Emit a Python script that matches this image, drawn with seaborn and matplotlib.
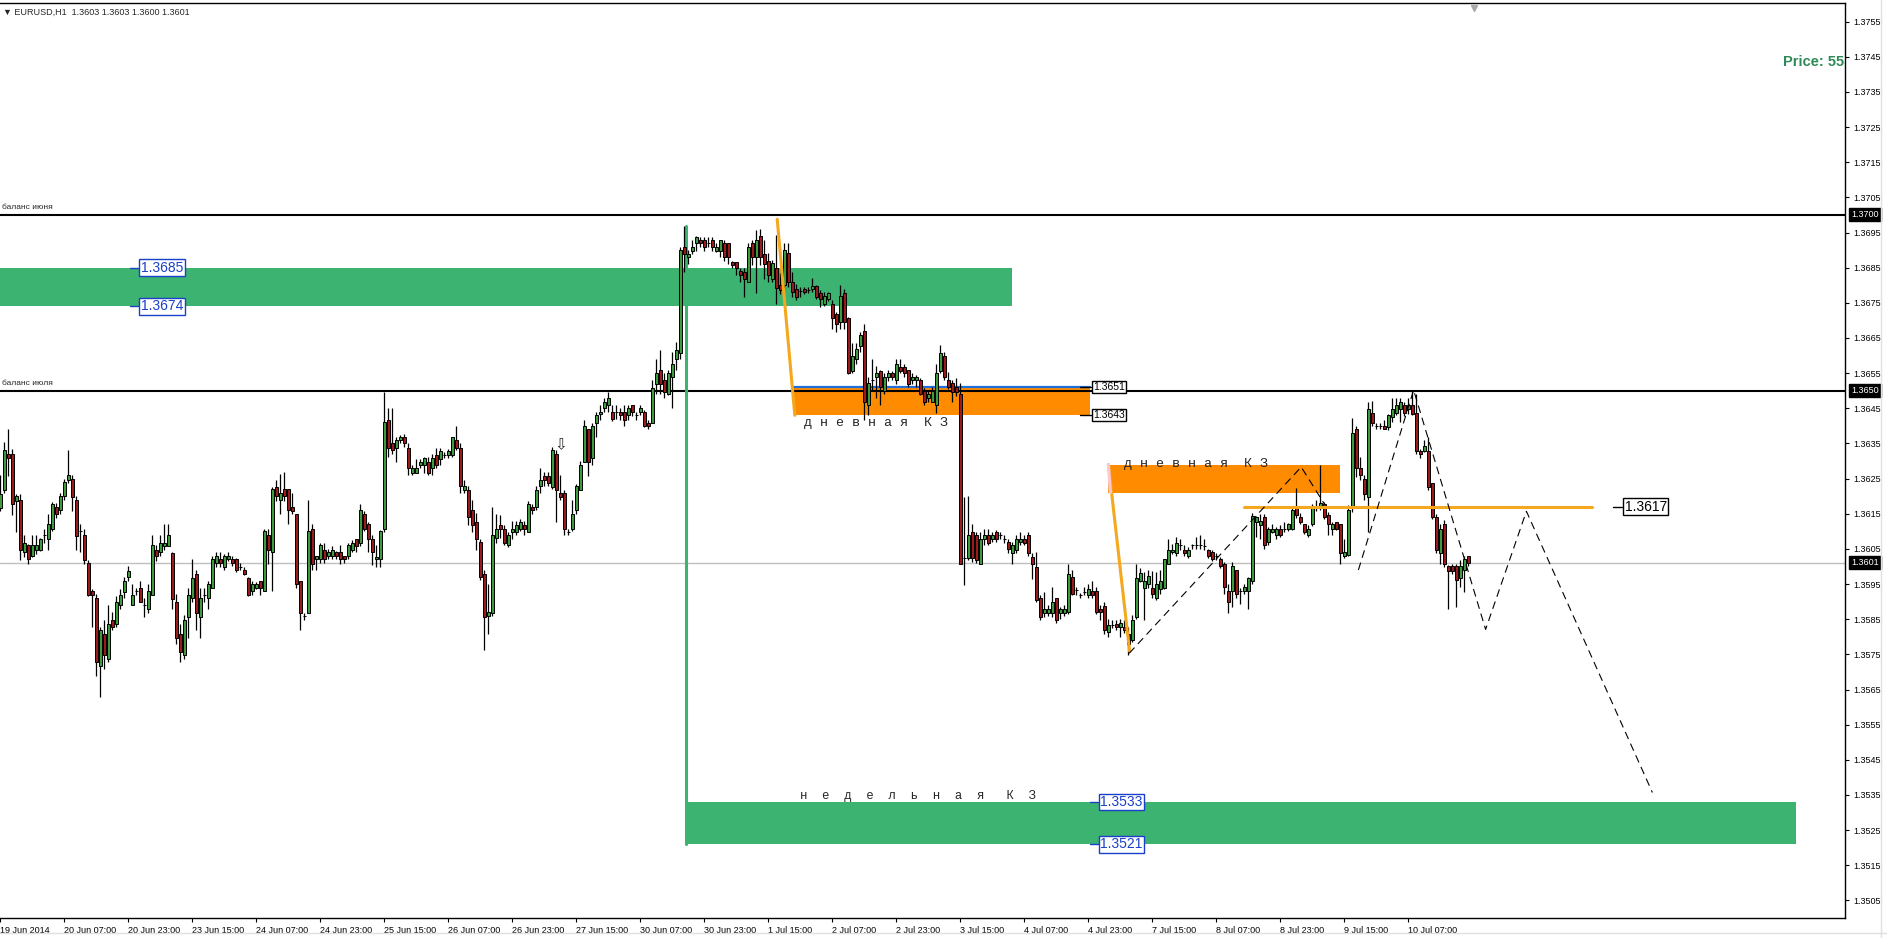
import numpy as np
import matplotlib.pyplot as plt
import matplotlib.lines as mlines
import seaborn as sns

# EURUSD H1, values in pips above 1.3500
opens = [116.7, 121.9, 132, 132, 118.7, 118.8, 104, 106, 102.9, 104.8, 104.8, 108.9, 107.9, 110.8, 117, 116,
         120, 124.7, 124.8, 118.8, 110, 108.9, 100.9, 93, 90.9, 71.7, 80.9, 73.8, 84.9, 83.7, 89, 92.8,
         97, 89, 93, 94, 89, 88, 92, 104.8, 104, 105.8, 105.8, 103.9, 90, 80.9, 74.7, 85.6,
         90.9, 98, 85.6, 92, 90.9, 94, 100.9, 102, 99.9, 102, 102, 102, 99.9, 98.9, 96.8, 92.9,
         94, 96, 92.9, 108.9, 104, 122.6, 118.8, 122, 122, 117, 114.8, 96, 85.9, 86.9, 110.8, 102,
         102, 104.8, 102.9, 102.9, 104, 104, 102.9, 102.9, 104.8, 107.9, 106.8, 114.8, 112, 107.9, 102, 102,
         110.8, 141.8, 135, 133.8, 135.9, 136.9, 133.8, 126.7, 126.7, 128.8, 128.8, 129.8, 127.9, 131.8, 130.7, 131.8,
         131.8, 131.8, 135.9, 133.8, 121.9, 121.9, 116, 112.7, 107, 98, 86, 86.8, 108, 111.9, 110.8, 106,
         109.8, 109.8, 110.8, 111.9, 109.8, 117, 117, 122.8, 125.7, 125.7, 122.7, 131.9, 120.8, 120.8, 109.8, 110.8,
         116, 121.9, 129.8, 139, 130.9, 140.9, 143.5, 145, 145.9, 144, 144, 144, 144, 143, 145.9, 143,
         144, 144, 140.9, 140.9, 151.9, 155.9, 153, 149, 154, 158.9, 160.8, 190.8, 187.9, 189.8, 191.9, 192.9,
         192.9, 191.9, 192.9, 189.8, 189.8, 191.9, 191.9, 186.7, 186.7, 184.1, 183.8, 180.8, 191.9, 187.9, 194, 188.9,
         187, 181.9, 184.8, 180.2, 180, 189.1, 181, 178.8, 178.3, 178.8, 178.6, 178.8, 179.8, 177.9, 174.8, 176,
         174.8, 171.7, 169.6, 177.9, 170.8, 155.7, 158.9, 162.7, 167, 145.9, 153, 153.8, 155.7, 150, 153.8, 154.9,
         153, 156.8, 156.8, 155.9, 153, 153, 153, 150, 147.8, 146.8, 145.9, 155.7, 159.8, 153, 152.1, 151.1,
         149.2, 102.3, 102.3, 109.8, 108.9, 100.8, 107.9, 108.9, 107.9, 109.8, 108.9, 107.9, 107, 103.7, 104.8, 107,
         107.9, 108.9, 102.7, 99.9, 90.9, 86.8, 86.8, 86.8, 90.9, 86.8, 86.8, 87.1, 97, 93.2, 91.8, 92.8,
         91.8, 93, 93, 88, 88.9, 81.3, 83.3, 83.7, 82.8, 82.8, 80.9, 79, 85.6, 96, 94, 95.1,
         94, 90.9, 93.7, 94, 100.8, 104.1, 103.9, 106, 104.8, 102.9, 106, 106, 106, 105.8, 104.8, 104.1,
         102.9, 102, 100.8, 93, 93, 98.9, 93, 93, 93, 95.9, 112.7, 111.7, 114.1, 107, 109.8, 108.9,
         110.8, 110.8, 110.8, 110.8, 116.9, 114.1, 112, 108.9, 112, 116.8, 116.8, 117.9, 114.6, 110.8, 112.7, 112,
         102.9, 103.2, 116.5, 139, 127.9, 125, 119.8, 143.7, 139.9, 139.9, 139.9, 139.7, 142.6, 143.7, 144.9, 145.9,
         144.9, 145.9, 143.7, 132.9, 132.9, 132.9, 123.8, 114.1, 103.7, 112, 100.1, 100.1, 100.1, 96.8, 98.9, 103]
highs = [126, 135.4, 139, 133.5, 120.7, 120.7, 108.9, 106.5, 108.9, 108.9, 108, 110.8, 114.8, 118.4, 118, 121,
         125, 133, 126, 120, 112, 110.8, 101.8, 93.7, 92.3, 82.8, 84.9, 89, 87, 91.5, 93.5, 97,
         100.2, 94.9, 94, 96, 90.9, 94.9, 108.9, 106, 108.9, 112, 112, 104, 92.3, 83.7, 86.1, 94,
         102, 98.9, 94, 94, 96, 102.9, 104, 104, 103.5, 104, 102.9, 102.5, 100.9, 99.9, 97, 96,
         95.5, 96, 110.8, 110.8, 122.6, 124.7, 126.4, 126.8, 122, 120.9, 114.8, 96, 86.9, 118.8, 112, 102.9,
         106.8, 106.8, 105, 105.8, 104.5, 106, 102.9, 106.8, 107.5, 107.9, 117.9, 115.8, 112.7, 108.9, 106, 110.3,
         149.7, 145, 145, 136.9, 137.4, 137.8, 135, 128.8, 130.7, 130.7, 131.2, 131.2, 132.1, 133.8, 133.8, 132.5,
         133.5, 136.9, 139.9, 135, 124.7, 122.8, 118.9, 115.1, 107.9, 98.9, 95.1, 116.9, 114.9, 114.6, 111.7, 109.8,
         112.9, 112.9, 113.5, 112.9, 118.5, 117.9, 122.8, 127.9, 126.9, 126.9, 134, 133.1, 126, 121.7, 110.8, 118.9,
         123.6, 129.9, 141.8, 139, 140.9, 144, 145.9, 147.8, 149.7, 145.9, 145.9, 145, 145.9, 145.9, 145.9, 144,
         145.9, 144.5, 141.8, 153, 158.9, 161.7, 154.9, 155.9, 161, 163.9, 191, 196.8, 190, 192.9, 194, 193.8,
         193.8, 193.8, 193.8, 191.9, 192.9, 192.9, 191.9, 187, 186.7, 184.8, 184.8, 191.9, 192.9, 195.7, 195.9, 192.9,
         189.1, 187.2, 194.3, 183.4, 191.9, 191.9, 183.8, 180.5, 179.6, 179.6, 179.6, 182, 180, 178.6, 178.1, 178.1,
         175.8, 172.4, 180, 178.8, 171, 163.6, 163.6, 166.6, 169, 154, 158.9, 157, 155.9, 154.9, 155.9, 155.5,
         158.9, 158.9, 157.7, 155.9, 154.9, 154.5, 153.5, 150.7, 150.1, 151.1, 157.7, 163, 161, 155.4, 153, 153.5,
         152.1, 119.8, 120, 112, 109.8, 109.8, 110.8, 110.8, 109.8, 110.3, 109.8, 108.9, 107.9, 107, 108.9, 109.8,
         108.9, 109.8, 103.7, 104.2, 91.8, 92.8, 89, 94.2, 90.9, 88.5, 89, 100.8, 98.9, 94.2, 92.5, 94.2,
         95.1, 96, 94.2, 89, 89.9, 85.2, 84.7, 84.7, 85.2, 84.7, 82.8, 86.1, 100.8, 99.5, 98.4, 98.9,
         98.7, 98.4, 99.1, 102.2, 107.9, 106.5, 108.4, 107.9, 106, 105.5, 106.5, 108.4, 108.9, 107.9, 105.1, 104.6,
         103.9, 102.7, 101.3, 95.1, 101.3, 99.1, 94, 95.1, 97, 115.2, 114.3, 115, 115, 111.3, 112, 111.3,
         111.7, 112.7, 112.5, 117, 122.2, 115.1, 112.2, 111.7, 117.9, 118.9, 128.8, 118.4, 115.5, 112.7, 112.7, 112.2,
         107.7, 117.4, 142.1, 139.9, 131.2, 126, 146.8, 147.1, 140.9, 140.9, 141.8, 143.5, 147.8, 147.8, 147.8, 146.8,
         147.8, 150, 149.2, 133.5, 136.1, 136.9, 123.8, 115, 112.2, 113.2, 100.3, 100.8, 100.8, 101.8, 102.9, 103]
lows = [115.8, 121, 125.8, 114.6, 109.8, 101.8, 102.7, 100.8, 102.7, 103.5, 104.5, 106.7, 104.8, 110, 113.8, 115,
        119, 123.8, 115.8, 104.6, 104, 100.8, 91.5, 82.8, 68.8, 62.9, 70.9, 72.8, 81.8, 82.8, 87.9, 91,
        96, 89, 91.8, 89.9, 85.6, 86.9, 92, 101.5, 102.9, 104.8, 105.8, 88, 78, 72.8, 73.8, 79.7,
        89.9, 81.8, 79.7, 89.9, 88, 93.8, 99.9, 99.9, 99, 101.5, 100, 98.5, 98.9, 97.5, 91.5, 92,
        93.5, 92, 92.9, 100.8, 92.9, 118.7, 114.8, 118.7, 112, 114.8, 94, 81.8, 84.9, 86.9, 98.9, 98.9,
        101, 101, 102, 102, 102, 100.8, 100.9, 102, 104, 104, 105.8, 110, 104, 100.4, 99.9, 99.9,
        109.8, 131.2, 132, 129.8, 135, 134, 126, 126, 126.7, 128, 126.7, 126, 126, 128, 128.8, 131,
        131, 131.2, 133, 120.8, 120.8, 111.7, 109.8, 104.6, 96.1, 76.2, 80.9, 86, 106.8, 108, 106, 105.6,
        107.9, 108.9, 110, 108.9, 109.8, 115, 116, 120.8, 122.8, 122.8, 122, 112.7, 118.9, 108.9, 108.9, 110,
        115, 121.9, 129.8, 125.8, 128.8, 136.9, 141.8, 144, 144, 141.5, 142, 141.8, 139.9, 141.8, 142.9, 141.8,
        143, 139.7, 139, 140.9, 149, 149, 147.8, 148.8, 145, 155.9, 159, 183.8, 186, 188.9, 189.8, 190.8,
        189.8, 190.8, 189.8, 189.5, 187.9, 186.9, 186, 185, 182.9, 181, 176.7, 180.8, 185.7, 177.9, 185.7, 181.9,
        181, 181, 174.8, 177.5, 179.1, 179.6, 176.7, 175.8, 176.7, 177.5, 177.7, 178, 176, 173.9, 174, 175.5,
        167.7, 166.8, 167.7, 167.7, 154.7, 154.9, 157.5, 161, 141.6, 143, 150, 147.8, 145.9, 149, 152.9, 153,
        152, 154.9, 153.8, 151, 151.9, 151, 148.7, 145.9, 146.8, 146.8, 143.8, 155, 153, 150.6, 146.8, 148.5,
        100.8, 94.6, 101.8, 101.4, 101, 100.8, 106, 106, 107, 107, 107.9, 106.7, 103.7, 100.8, 103.7, 106,
        106, 103, 96.5, 89.9, 84.7, 85.6, 86, 85.6, 84, 85.2, 86, 86.5, 91.8, 91.8, 90.9, 92,
        91, 91, 86.5, 84.7, 80.9, 79.9, 82.5, 82, 79.9, 81, 74.7, 78.5, 85.2, 95.5, 84.7, 94,
        90.9, 90.4, 92.3, 93.7, 100.6, 103.5, 103, 104.8, 102.9, 102.3, 105.1, 105.1, 105.1, 104.8, 102.3, 101.5,
        101.8, 99.5, 92.3, 86.8, 88.5, 91, 89.2, 92.3, 88, 94.9, 108.4, 107.9, 105, 106, 109.5, 107.9,
        108.4, 109.8, 110, 110.3, 113.9, 112.2, 109.3, 108.4, 111.5, 115.9, 116, 113.5, 108.9, 108.9, 110.3, 100.8,
        102.3, 102.9, 115.5, 125.5, 124.7, 118.8, 109.8, 139.9, 139, 139, 139, 138.8, 141.1, 143, 141.1, 142.8,
        143.5, 143, 131.9, 131, 132.5, 121.9, 113.6, 103.7, 100.8, 99.9, 88, 97.8, 88.5, 94.2, 92.8, 100]
closes = [120.7, 133.1, 131, 117.9, 120, 104.6, 106.8, 102, 106, 106, 107.9, 109, 112, 117.9, 114.8, 120,
          124, 126, 119.8, 108.7, 110, 101.8, 92, 92, 72.8, 81.8, 74.7, 83.7, 82.8, 89.9, 92, 96,
          98.7, 92, 93, 89.9, 89, 93, 106, 102.9, 106.8, 106.8, 108.9, 90.7, 79.7, 75.7, 84.9, 92,
          96.8, 86.9, 90.9, 92, 94.9, 102, 102.9, 100.9, 102.9, 102.9, 100.9, 98.9, 99.9, 98, 92, 94.9,
          94.9, 94, 110, 104.8, 122, 120, 120.9, 120, 116, 115.8, 94.9, 86.9, 85.9, 110, 100.8, 102.9,
          106, 102, 104, 104.8, 102.9, 102, 102, 106, 106.8, 105.8, 116, 110.8, 107.9, 104.2, 102.8, 110,
          141.2, 133.8, 133, 135.9, 136.9, 135, 127.9, 127.9, 127.9, 129.8, 130.9, 126.7, 130.9, 128.8, 132.9, 131.8,
          132.9, 136.9, 133.8, 122.8, 122.8, 114.1, 111.7, 107.9, 97, 85.7, 87.1, 108.9, 110.8, 110.8, 106.8, 108.9,
          110.8, 111.9, 112.7, 110.8, 117.9, 116, 121.9, 124.7, 124.7, 123.8, 133.1, 121.9, 119.8, 110.8, 109.8, 114.9,
          122.8, 128.8, 139.9, 129.8, 139.9, 143, 144, 146.8, 147.8, 142, 144, 143, 141.8, 145, 144, 143,
          145, 139.9, 139.9, 150.9, 154.9, 151.9, 149.7, 154.9, 157.7, 161.7, 190, 188.9, 188.9, 190.8, 193.8, 191.9,
          190.8, 191.9, 190.8, 190.8, 192.9, 187.9, 188.1, 185.7, 184.8, 182.9, 181.9, 190.8, 187.9, 192.9, 187.9, 186,
          182.9, 186.2, 179.1, 178.6, 190, 181, 178.1, 176.7, 178.3, 178.1, 178.6, 179.8, 176.7, 176, 176.9, 177.9,
          170.8, 168.9, 176.9, 169.6, 154.9, 159.8, 162, 165.8, 146.8, 152.1, 153, 154.9, 151.1, 154, 154.9, 153.8,
          157.7, 155.7, 154.9, 151.9, 153.9, 153.9, 149, 146.8, 149, 150, 154.9, 160.8, 153.8, 151.1, 149.7, 149.7,
          100.8, 102.3, 108.9, 102.3, 101.8, 107.9, 108.9, 106.7, 108.9, 107.9, 108.9, 107.9, 105.1, 106, 107.9, 107.9,
          106.7, 103.7, 100.8, 90.4, 85.6, 88, 88, 89.9, 84.9, 88, 88, 98, 92.3, 93.2, 91.8, 92.8,
          93.7, 91.8, 87.1, 87.1, 81.8, 83.3, 83.3, 82.8, 83.9, 81.8, 78, 84.9, 96.8, 98.2, 96, 97.2,
          92.1, 94.9, 96, 102, 104.8, 104.8, 106.7, 106, 103.7, 104.8, 106, 106, 106, 105.8, 102.9, 102,
          102.9, 100.1, 94.2, 89.9, 100.1, 92.1, 93, 94.2, 96.8, 114.3, 114.1, 113, 106, 110.8, 110.8, 110.8,
          108.9, 110.8, 112, 116, 114.6, 112.7, 109.8, 110.8, 116.8, 116.8, 118.1, 114.1, 112, 112.2, 110.8, 103.9,
          104.1, 116, 138, 127.9, 126, 120.7, 144.9, 140.9, 139.9, 139.9, 139, 143, 144.9, 145.9, 146.8, 143.7,
          145.9, 143.5, 132.9, 131.9, 134.2, 122.6, 114.1, 104.6, 110.8, 100.8, 98.7, 98.7, 96.1, 100.1, 102, 101]

# time axis labels, one every 16 bars
tick_labels = ["19 Jun 2014", "20 Jun 07:00", "20 Jun 23:00", "23 Jun 15:00", "24 Jun 07:00", "24 Jun 23:00",
               "25 Jun 15:00", "26 Jun 07:00", "26 Jun 23:00", "27 Jun 15:00", "30 Jun 07:00", "30 Jun 23:00",
               "1 Jul 15:00", "2 Jul 07:00", "2 Jul 23:00", "3 Jul 15:00", "4 Jul 07:00", "4 Jul 23:00",
               "7 Jul 15:00", "8 Jul 07:00", "8 Jul 23:00", "9 Jul 15:00", "10 Jul 07:00"]
price_ticks = [1.3505 + 0.001 * i for i in range(26)]

# zones (bar from, bar to, low, high)
green_zone_top = (-1, 253, 1.3674, 1.3685)
green_zone_bot = (171.3, 448.8, 1.3521, 1.3533)
orange_zone_1 = (198.5, 272.3, 1.3643, 1.3651)
orange_zone_2 = (277, 335, 1.3621, 1.3629)

# dashed forecast path (bar, price)
fc1_x = [282.2, 325.2, 331.2]
fc1_y = [1.35753, 1.36283, 1.36174]
fc2_x = [339.5, 353.3, 371.3, 381.5, 413.0]
fc2_y = [1.35990, 1.36502, 1.35821, 1.36157, 1.35357]

GREEN = "#3CB371"
ORANGE = "#FF8C00"
GOLD = "#F5A71E"
BLUE = "#1A3FC8"
UP = "#3E9A3E"
DOWN = "#9A1B1B"

sns.set_style("white")
plt.rcParams["font.family"] = ["Liberation Sans", "DejaVu Sans"]

o = 1.35 + np.array(opens) / 1e4
h = 1.35 + np.array(highs) / 1e4
l = 1.35 + np.array(lows) / 1e4
c = 1.35 + np.array(closes) / 1e4
h = np.maximum(h, np.maximum(o, c))
l = np.minimum(l, np.minimum(o, c))
x = np.arange(len(o))

fig = plt.figure(figsize=(18.87, 9.38), dpi=100)
ax = fig.add_axes([0, 20 / 938, 1845 / 1887, 915 / 938])
ax.set_xlim(-0.1, 461.15)
ax.set_ylim(1.3500, 1.37603)

# zones
for (x0, x1, y0, y1), col in [(green_zone_top, GREEN), (green_zone_bot, GREEN),
                              (orange_zone_1, ORANGE), (orange_zone_2, ORANGE)]:
    ax.fill_between([x0, x1], y0, y1, color=col, lw=0, zorder=1)
ax.plot([198.5, 272.3], [1.3651, 1.3651], color="#1E6FD9", lw=1.6, zorder=1.5)

# horizontal levels
ax.axhline(1.3700, color="black", lw=1.5, zorder=2)
ax.axhline(1.3650, color="black", lw=1.5, zorder=2)
ax.axhline(1.3601, color="#C0C0C0", lw=1.0, zorder=1.2)
ax.text(0.3, 1.37012, "баланс июня", fontsize=6, va="bottom", ha="left")
ax.text(0.3, 1.36512, "баланс июля", fontsize=6, va="bottom", ha="left")

# green vertical line
ax.plot([171.3, 171.3], [1.36970, 1.3521], color=GREEN, lw=2.2, zorder=2)

# candles
ax.vlines(x, l, h, color="black", lw=0.9, zorder=3)
body_lo = np.minimum(o, c)
body_h = np.abs(c - o)
colors = [UP if cc >= oo else DOWN for oo, cc in zip(o, c)]
ax.bar(x, body_h, bottom=body_lo, width=0.62, color=colors, edgecolor="black", linewidth=0.7, zorder=4)

# trendlines
ax.plot([194.2, 198.6], [1.36988, 1.3643], color=GOLD, lw=2.2, zorder=5)
ax.plot([277.0, 282.3], [1.3629, 1.35759], color=GOLD, lw=2.2, zorder=5)
ax.plot([277.0, 277.5], [1.3629, 1.3621], color="#FBC8D4", lw=2.2, zorder=5.1)
ax.plot([310.8, 398], [1.3617, 1.3617], color=GOLD, lw=2.2, zorder=5)

# forecast zigzag
sns.lineplot(x=fc1_x, y=fc1_y, sort=False, estimator=None, color="black", lw=0.8,
             dashes=False, ax=ax, zorder=6).lines[-1].set_dashes((7, 4.5))
sns.lineplot(x=fc2_x, y=fc2_y, sort=False, estimator=None, color="black", lw=0.8,
             dashes=False, ax=ax, zorder=6).lines[-1].set_dashes((7, 4.5))


def price_tag(xl, price, text, color, fs, dash):
    ax.plot([xl - dash, xl], [price, price], color=color, lw=1, zorder=7)
    ax.text(xl + 0.6, price, text, ha="left", va="center", fontsize=fs, color=color, zorder=8,
            bbox=dict(boxstyle="square,pad=0.1", fc="white", ec=color, lw=1))


price_tag(34.5, 1.3685, "1.3685", BLUE, 10, 2)
price_tag(34.5, 1.3674, "1.3674", BLUE, 10, 2)
price_tag(272.6, 1.3651, "1.3651", "black", 7.5, 2.6)
price_tag(272.6, 1.3643, "1.3643", "black", 7.5, 2.6)
price_tag(405.5, 1.3617, "1.3617", "black", 10, 2.4)
price_tag(274.3, 1.3533, "1.3533", BLUE, 10, 2)
price_tag(274.3, 1.3521, "1.3521", BLUE, 10, 2)

mono = ["Liberation Mono", "DejaVu Sans Mono"]
ax.text(201, 1.36425, "д н е в н а я  К З", family=mono, fontsize=9.6, va="top", ha="left", zorder=8)
ax.text(281, 1.36292, "д н е в н а я  К З", family=mono, fontsize=9.6, va="center", ha="left", zorder=8)
ax.text(199.8, 1.35347, "н  е  д  е  л  ь  н  а  я   К  З", family=mono, fontsize=8.8, va="center",
        ha="left", zorder=8)
ax.text(140.2, 1.36346, "⇩", family=["DejaVu Sans"], fontsize=11, ha="center", va="center", zorder=8)

# axes styling
ax.yaxis.tick_right()
ax.set_yticks(price_ticks)
ax.set_yticklabels([f"{p:.4f}" for p in price_ticks])
ax.set_xticks(np.arange(0, 16 * len(tick_labels), 16))
ax.set_xticklabels(tick_labels, ha="left")
ax.tick_params(axis="y", which="both", right=True, length=3, width=0.8, pad=3, labelsize=6.5, colors="black")
ax.tick_params(axis="x", which="both", bottom=True, length=3, width=0.8, pad=3, labelsize=6.5, colors="black")
for side in ["top", "right", "bottom"]:
    ax.spines[side].set_color("black")
    ax.spines[side].set_linewidth(1)
ax.spines["left"].set_visible(False)
ax.set_xlabel("")
ax.set_ylabel("")

# highlighted prices on the price scale
yt = ax.get_yaxis_transform()
for p in [1.3700, 1.3650, 1.3601]:
    ax.text(1.0033, p, f"{p:.4f}", transform=yt, ha="left", va="center", fontsize=6.5, color="white",
            zorder=9, clip_on=False, bbox=dict(boxstyle="square,pad=0.22", fc="black", ec="black"))

fig.text(3 / 1887, 1 - 12 / 938, "▼ EURUSD,H1  1.3603 1.3603 1.3600 1.3601", fontsize=6.5, va="center",
         ha="left", family=["Liberation Sans", "DejaVu Sans"])
ax.text(0.9993, 1 - 59 / 915, "Price: 55", transform=ax.transAxes, ha="right", va="center",
        fontsize=10.5, fontweight="bold", color="#2E8B57")
ax.plot([368.3], [1.37590], marker="v", color="#A8A8A8", ms=5, clip_on=False, zorder=9)

fig.add_artist(mlines.Line2D([0, 1], [1 - 933 / 938, 1 - 933 / 938], color="#E0E0E0", lw=1))
fig.add_artist(mlines.Line2D([1881 / 1887, 1881 / 1887], [0, 1], color="#E0E0E0", lw=1))

fig.savefig("out.png", dpi=100)
